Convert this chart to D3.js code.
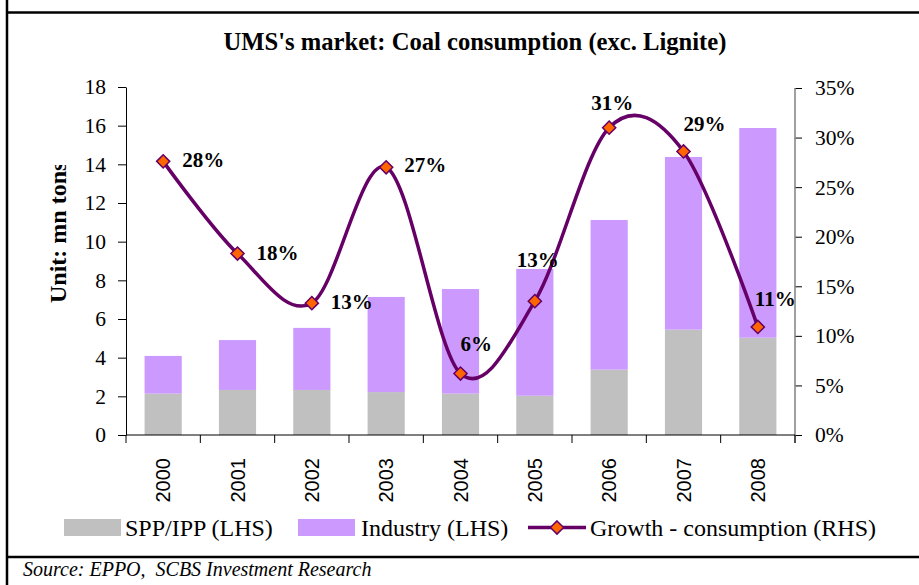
<!DOCTYPE html>
<html>
<head>
<meta charset="utf-8">
<script src="https://cdn.jsdelivr.net/npm/d3@7"></script>
<style>
  html, body { margin: 0; padding: 0; background: #fff; }
  svg { display: block; }
  text { white-space: pre; }
</style>
</head>
<body>
<svg id="chart" width="919" height="585"></svg>
<script>
// ---------- data ----------
const years = ["2000", "2001", "2002", "2003", "2004", "2005", "2006", "2007", "2008"];
const sppIpp = [2.14, 2.33, 2.33, 2.22, 2.14, 2.03, 3.38, 5.45, 5.03];
const industry = [1.95, 2.58, 3.21, 4.92, 5.41, 6.56, 7.74, 8.93, 10.85];
const growth = [0.276, 0.183, 0.133, 0.270, 0.062, 0.135, 0.310, 0.286, 0.109];
const growthLabels = ["28%", "18%", "13%", "27%", "6%", "13%", "31%", "29%", "11%"];
const leftTicks = [0, 2, 4, 6, 8, 10, 12, 14, 16, 18];
const rightTicks = [0, 0.05, 0.10, 0.15, 0.20, 0.25, 0.30, 0.35];

// label placement relative to each point (layout, not data)
const labelOffsets = [[19, 6], [19, 6], [19, 6], [18, 5], [0, -23], [-18, -34], [-18, -18], [0, -20], [-3, -21]];

// ---------- layout ----------
const W = 919, H = 585;
const plot = { left: 126, right: 795, top: 87, bottom: 435 };
const serif = "'Liberation Serif', 'Times New Roman', serif";
const sans = "'Liberation Sans', Arial, sans-serif";
const cGray = "#C0C0C0", cPurple = "#CC99FF", cLine = "#660066", cMarker = "#FF6600";

const svg = d3.select("#chart");

// frame lines
svg.append("line").attr("x1", 7).attr("x2", W).attr("y1", 12.5).attr("y2", 12.5)
  .attr("stroke", "#000").attr("stroke-width", 2.5);
svg.append("line").attr("x1", 7).attr("x2", 7).attr("y1", 0).attr("y2", H)
  .attr("stroke", "#000").attr("stroke-width", 2.5);
svg.append("line").attr("x1", 7).attr("x2", W).attr("y1", 557).attr("y2", 557)
  .attr("stroke", "#000").attr("stroke-width", 2.5);

// title
svg.append("text").attr("x", 475).attr("y", 49.5).attr("text-anchor", "middle")
  .attr("font-family", serif).attr("font-weight", "bold").attr("font-size", 24.6)
  .text("UMS's market: Coal consumption (exc. Lignite)");

// scales
const x = d3.scaleBand().domain(years).range([plot.left, plot.right])
  .paddingInner(0.5).paddingOuter(0.25);
const y = d3.scaleLinear().domain([0, 18]).range([plot.bottom, plot.top]);
const y2 = d3.scaleLinear().domain([0, 0.35]).range([plot.bottom, plot.top + 1]);

// stacked bars
const rows = years.map((yr, i) => ({ year: yr, spp: sppIpp[i], ind: industry[i] }));
const stack = d3.stack().keys(["spp", "ind"])(rows);
const colors = { spp: cGray, ind: cPurple };
svg.append("g").selectAll("g").data(stack).join("g")
  .attr("fill", d => colors[d.key])
  .selectAll("rect").data(d => d).join("rect")
  .attr("x", d => x(d.data.year))
  .attr("width", x.bandwidth())
  .attr("y", d => y(d[1]))
  .attr("height", d => y(d[0]) - y(d[1]));

// left axis
const gL = svg.append("g").attr("transform", `translate(${plot.left},0)`)
  .call(d3.axisLeft(y).tickValues(leftTicks).tickSize(8).tickSizeOuter(0).tickPadding(12));
gL.select(".domain").attr("stroke", "#000");
gL.selectAll("text").attr("font-family", serif).attr("font-size", 21.5).attr("fill", "#000");
gL.selectAll(".tick line").attr("stroke", "#000");

// right axis
const gR = svg.append("g").attr("transform", `translate(${plot.right},0)`)
  .call(d3.axisRight(y2).tickValues(rightTicks).tickFormat(d3.format(".0%")).tickSize(7).tickSizeOuter(0).tickPadding(13));
gR.select(".domain").remove();
gR.selectAll("text").attr("font-family", serif).attr("font-size", 21.5).attr("fill", "#000");
gR.selectAll(".tick line").attr("stroke", "#000");
gR.append("line").attr("x1", 0).attr("x2", 0).attr("y1", y2(0.35)).attr("y2", plot.bottom + 8)
  .attr("stroke", "#808080").attr("stroke-width", 1.5);

// x axis
svg.append("line").attr("x1", plot.left).attr("x2", plot.right)
  .attr("y1", plot.bottom).attr("y2", plot.bottom).attr("stroke", "#000");
const boundaries = years.map(d => x(d) + x.bandwidth() / 2 - x.step() / 2)
  .concat([x(years[years.length - 1]) + x.bandwidth() / 2 + x.step() / 2]);
svg.append("g").selectAll("line").data(boundaries).join("line")
  .attr("x1", d => d).attr("x2", d => d)
  .attr("y1", plot.bottom).attr("y2", plot.bottom + 8).attr("stroke", "#000");
svg.append("g").selectAll("text").data(years).join("text")
  .attr("transform", d => `translate(${x(d) + x.bandwidth() / 2},${plot.bottom + 23}) rotate(-90)`)
  .attr("text-anchor", "end").attr("dy", "0.36em")
  .attr("font-family", sans).attr("font-size", 20).attr("fill", "#000")
  .text(d => d);

// y axis title (clipped at top like the original)
const defs = svg.append("defs");
defs.append("clipPath").attr("id", "ytclip").append("rect")
  .attr("x", 0).attr("y", 165).attr("width", 120).attr("height", 300);
svg.append("g").attr("clip-path", "url(#ytclip)")
  .append("text")
  .attr("transform", "translate(66,303) rotate(-90)")
  .attr("font-family", serif).attr("font-weight", "bold").attr("font-size", 24).attr("fill", "#000")
  .text("Unit: mn tons");

// growth line
const pts = years.map((yr, i) => ({ year: yr, g: growth[i], label: growthLabels[i], off: labelOffsets[i] }));
const cx = d => x(d.year) + x.bandwidth() / 2;
const line = d3.line().x(cx).y(d => y2(d.g)).curve(d3.curveCardinal.tension(0));
svg.append("path").datum(pts).attr("d", line)
  .attr("fill", "none").attr("stroke", cLine).attr("stroke-width", 3.5).attr("stroke-linejoin", "round");

const diamond = d3.symbol().type(d3.symbolDiamond2).size(110);
svg.append("g").selectAll("path").data(pts).join("path")
  .attr("d", diamond)
  .attr("transform", d => `translate(${cx(d)},${y2(d.g)})`)
  .attr("fill", cMarker).attr("stroke", cLine).attr("stroke-width", 1.5);

svg.append("g").selectAll("text").data(pts).join("text")
  .attr("x", d => cx(d) + d.off[0]).attr("y", d => y2(d.g) + d.off[1])
  .attr("font-family", serif).attr("font-weight", "bold").attr("font-size", 21).attr("fill", "#000")
  .text(d => d.label);

// legend
const lg = svg.append("g").attr("font-family", serif).attr("font-size", 24).attr("fill", "#000");
lg.append("rect").attr("x", 64).attr("y", 519).attr("width", 57).attr("height", 17).attr("fill", cGray);
lg.append("text").attr("x", 125).attr("y", 536).text("SPP/IPP (LHS)");
lg.append("rect").attr("x", 298).attr("y", 519).attr("width", 57).attr("height", 17).attr("fill", cPurple);
lg.append("text").attr("x", 361).attr("y", 536).text("Industry (LHS)");
lg.append("line").attr("x1", 528).attr("x2", 586).attr("y1", 527.5).attr("y2", 527.5)
  .attr("stroke", cLine).attr("stroke-width", 3.5);
lg.append("path").attr("d", diamond).attr("transform", "translate(557,527.5)")
  .attr("fill", cMarker).attr("stroke", cLine).attr("stroke-width", 1.5);
lg.append("text").attr("x", 590).attr("y", 536).text("Growth - consumption (RHS)");

// source
svg.append("text").attr("x", 23).attr("y", 576)
  .attr("font-family", serif).attr("font-style", "italic").attr("font-size", 20).attr("fill", "#000")
  .text("Source: EPPO,  SCBS Investment Research");
</script>
</body>
</html>
